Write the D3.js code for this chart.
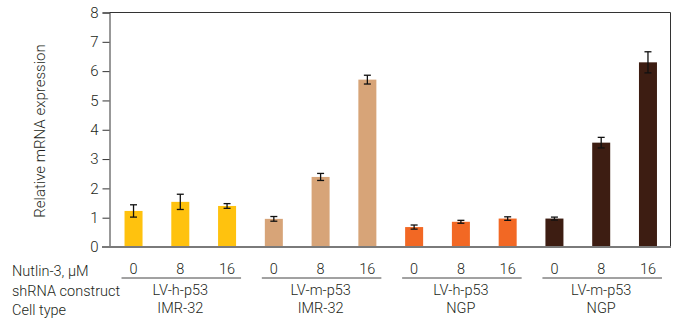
<!DOCTYPE html>
<html><head><meta charset="utf-8">
<script src="https://cdn.jsdelivr.net/npm/d3@7"></script>
<style>
body{margin:0;background:#fff;}
text{font-family:Roboto,"Liberation Sans",sans-serif;font-weight:300;fill:#231f20;}
</style></head>
<body><svg id="c" width="673" height="328"></svg>
<script>
const doses = ["0","8","16"];
const constructs = ["LV-h-p53","LV-m-p53","LV-h-p53","LV-m-p53"];
const cellTypes = ["IMR-32","IMR-32","NGP","NGP"];
const groupColors = ["#ffc20e","#d7a478","#f26824","#3d1d12"];
const values = [1.23,1.54,1.40, 0.96,2.39,5.71, 0.68,0.86,0.97, 0.97,3.56,6.30];
const errors = [0.21,0.26,0.08, 0.08,0.12,0.15, 0.07,0.05,0.06, 0.05,0.18,0.36];
const yTicks = [0,1,2,3,4,5,6,7,8];
const rowLabels = ["Nutlin-3, μM","shRNA construct","Cell type"];

(function(){
const svg = d3.select("#c");
const pL=109.5, pR=670.5, pT=12.5, pB=247;
const ids = values.map((v,i)=>i);
const x = d3.scaleBand().domain(ids).range([110.5,671]).paddingInner(0.615).paddingOuter(0.3);
const y = d3.scaleLinear().domain([0,8]).range([pB,pT]);

svg.append("path").attr("d",`M${pL},${pT}H${pR}V${pB}`).attr("fill","none").attr("stroke","#333").attr("stroke-width",1);

svg.selectAll("rect.bar").data(values).enter().append("rect")
 .attr("x",(d,i)=>x(i)).attr("width",x.bandwidth())
 .attr("y",d=>y(d)).attr("height",d=>pB-y(d))
 .attr("fill",(d,i)=>groupColors[Math.floor(i/3)]);

const eb = svg.selectAll("g.eb").data(values).enter().append("g").attr("stroke","#111").attr("stroke-width",1.3);
const cx = i=>x(i)+x.bandwidth()/2;
eb.append("line").attr("x1",(d,i)=>cx(i)).attr("x2",(d,i)=>cx(i))
  .attr("y1",(d,i)=>y(d+errors[i])).attr("y2",(d,i)=>y(d-errors[i]));
eb.append("line").attr("x1",(d,i)=>cx(i)-3.5).attr("x2",(d,i)=>cx(i)+3.5)
  .attr("y1",(d,i)=>y(d+errors[i])).attr("y2",(d,i)=>y(d+errors[i]));
eb.append("line").attr("x1",(d,i)=>cx(i)-3.5).attr("x2",(d,i)=>cx(i)+3.5)
  .attr("y1",(d,i)=>y(d-errors[i])).attr("y2",(d,i)=>y(d-errors[i]));

const ya = svg.append("g").attr("transform",`translate(${pL},0)`)
 .call(d3.axisLeft(y).tickValues(yTicks).tickSize(7).tickPadding(4).tickFormat(d3.format("d")));
ya.select(".domain").attr("stroke","#333");
ya.selectAll(".tick line").attr("stroke","#333");
ya.selectAll("text").style("font-size","15px").style("font-family","Roboto,'Liberation Sans',sans-serif").style("font-weight",300).attr("fill","#231f20");

svg.append("line").attr("x1",102).attr("x2",671).attr("y1",pB).attr("y2",pB).attr("stroke","#7a7a7a").attr("stroke-width",2);

svg.append("text").attr("transform",`translate(45,131) rotate(-90)`).attr("text-anchor","middle")
 .style("font-size","15px").text("Relative mRNA expression");

svg.selectAll("text.dose").data(values).enter().append("text")
 .attr("x",(d,i)=>cx(i)).attr("y",273.5).attr("text-anchor","middle")
 .style("font-size","14.5px").text((d,i)=>doses[i%3]);

const groups = d3.range(4);
svg.selectAll("line.grp").data(groups).enter().append("line")
 .attr("x1",g=>x(g*3)-3).attr("x2",g=>x(g*3+2)+x.bandwidth()+5)
 .attr("y1",278).attr("y2",278).attr("stroke","#444").attr("stroke-width",1);
svg.selectAll("text.cons").data(groups).enter().append("text")
 .attr("x",g=>cx(g*3+1)).attr("y",294.5).attr("text-anchor","middle")
 .style("font-size","14.5px").text(g=>constructs[g]);
svg.selectAll("text.cell").data(groups).enter().append("text")
 .attr("x",g=>cx(g*3+1)).attr("y",312.5).attr("text-anchor","middle")
 .style("font-size","14.5px").text(g=>cellTypes[g]);

svg.selectAll("text.row").data(rowLabels).enter().append("text")
 .attr("x",12).attr("y",(d,i)=>[275.5,295.5,314.5][i])
 .style("font-size","14.5px").text(d=>d);
})();
</script></body></html>
